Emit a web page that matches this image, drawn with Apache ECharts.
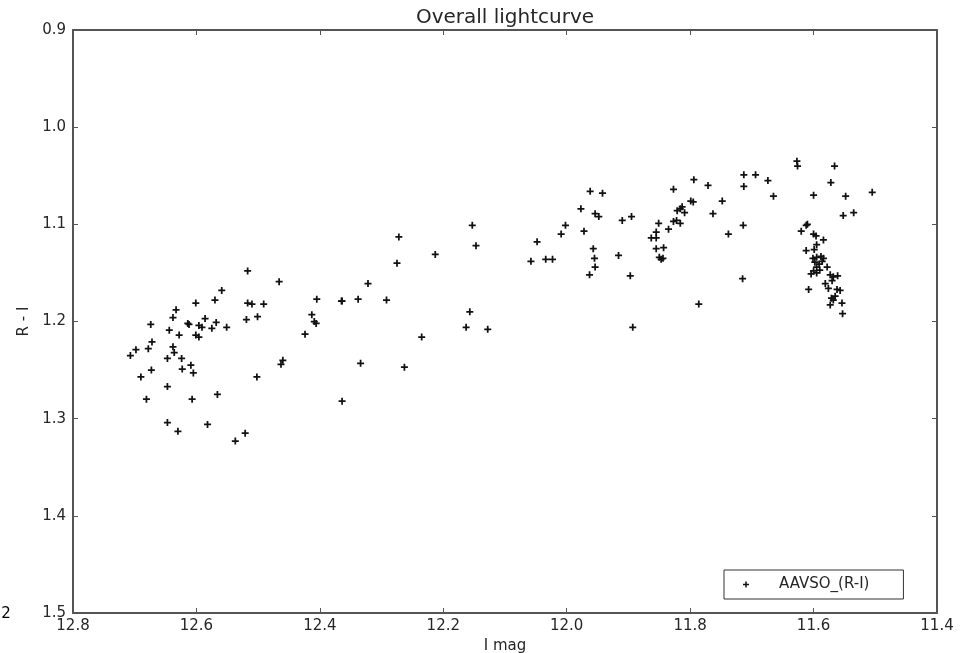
<!DOCTYPE html>
<html>
<head>
<meta charset="utf-8">
<script src="https://cdn.jsdelivr.net/npm/echarts@6/dist/echarts.min.js"></script>
<style>
html,body{margin:0;padding:0;background:#fff;}
#chart{width:961px;height:653px;}
</style>
</head>
<body>
<div id="chart"></div>
<script>
var chartTitle = 'Overall lightcurve';
var xName = 'I mag';
var yName = 'R - I';
var seriesName = 'AAVSO_(R-I)';
var xTicks = [12.8, 12.6, 12.4, 12.2, 12.0, 11.8, 11.6, 11.4];
var yTicks = [0.9, 1.0, 1.1, 1.2, 1.3, 1.4, 1.5];

var iMag = [
12.517,12.466,12.559,12.570,12.601,12.517,12.510,12.491,12.633,12.638,
12.586,12.614,12.612,12.568,12.674,12.596,12.591,12.575,12.551,12.519,
12.501,12.644,12.628,12.601,12.596,12.672,12.698,12.678,12.638,12.636,
12.707,12.647,12.624,12.609,12.623,12.605,12.673,12.690,12.460,12.463,
12.502,12.647,12.681,12.607,12.566,12.647,12.630,12.582,12.521,12.537,
12.153,12.147,12.272,12.213,12.275,12.322,12.405,12.365,12.364,12.338,
12.292,12.413,12.409,12.406,12.424,12.235,12.157,12.163,12.128,12.334,
12.263,12.364,12.048,12.058,12.034,12.023,12.002,12.009,11.977,11.962,
11.942,11.954,11.948,11.972,11.957,11.955,11.954,11.963,11.910,11.895,
11.916,11.897,11.893,11.851,11.855,11.863,11.855,11.855,11.843,11.850,
11.847,11.844,11.835,11.827,11.822,11.816,11.827,11.821,11.816,11.813,
11.809,11.799,11.795,11.794,11.771,11.763,11.748,11.738,11.786,11.713,
11.694,11.713,11.674,11.665,11.627,11.626,11.566,11.572,11.600,11.548,
11.505,11.552,11.535,11.714,11.715,11.610,11.612,11.620,11.600,11.596,
11.584,11.595,11.612,11.599,11.601,11.595,11.588,11.584,11.598,11.591,
11.586,11.595,11.578,11.600,11.590,11.604,11.595,11.573,11.568,11.561,
11.581,11.570,11.576,11.562,11.557,11.608,11.565,11.571,11.568,11.554,
11.573,11.553
];
var rMinusI = [
1.148,1.159,1.168,1.178,1.181,1.181,1.182,1.182,1.188,1.196,
1.197,1.202,1.203,1.201,1.203,1.204,1.206,1.207,1.206,1.198,
1.195,1.209,1.214,1.214,1.216,1.221,1.229,1.228,1.226,1.232,
1.235,1.238,1.238,1.245,1.249,1.253,1.250,1.257,1.240,1.244,
1.257,1.267,1.280,1.280,1.275,1.304,1.313,1.306,1.315,1.323,
1.101,1.122,1.113,1.131,1.140,1.161,1.177,1.179,1.179,1.177,
1.178,1.193,1.200,1.202,1.213,1.216,1.190,1.206,1.208,1.243,
1.247,1.282,1.118,1.138,1.136,1.136,1.101,1.110,1.084,1.066,
1.068,1.089,1.092,1.107,1.125,1.135,1.144,1.152,1.096,1.092,
1.132,1.153,1.206,1.099,1.108,1.114,1.114,1.125,1.124,1.134,
1.136,1.135,1.105,1.097,1.096,1.099,1.064,1.086,1.084,1.082,
1.088,1.076,1.077,1.054,1.060,1.089,1.076,1.110,1.182,1.049,
1.049,1.061,1.055,1.071,1.035,1.040,1.040,1.057,1.070,1.071,
1.067,1.091,1.088,1.101,1.156,1.100,1.101,1.107,1.110,1.112,
1.116,1.121,1.127,1.126,1.135,1.134,1.133,1.135,1.139,1.141,
1.138,1.144,1.144,1.148,1.147,1.151,1.150,1.152,1.154,1.153,
1.161,1.158,1.166,1.167,1.168,1.167,1.174,1.176,1.178,1.181,
1.183,1.192
];

var points = iMag.map(function (x, i) { return [x, rMinusI[i]]; });
var plusPath = 'path://M3,0H5V3H8V5H5V8H3V5H0V3H3Z';
var FONT = 'DejaVu Sans';
var TXT = '#262626';
var AX = '#555';

function fmt(v) { return (Math.round(v * 10) / 10).toFixed(1); }

var xMin = Math.min.apply(null, xTicks), xMax = Math.max.apply(null, xTicks);
var yMin = Math.min.apply(null, yTicks), yMax = Math.max.apply(null, yTicks);

var chart = echarts.init(document.getElementById('chart'), null, {renderer: 'canvas'});
var commonX = {
  type: 'value', min: xMin, max: xMax, interval: 0.2, inverse: true,
  splitLine: {show: false},
  axisLine: {show: true, onZero: false, lineStyle: {color: AX, width: 2}},
  axisTick: {show: true, inside: true, length: 5, lineStyle: {color: AX, width: 1}}
};
var commonY = {
  type: 'value', min: yMin, max: yMax, interval: 0.1, inverse: true,
  splitLine: {show: false},
  axisLine: {show: true, onZero: false, lineStyle: {color: AX, width: 2}},
  axisTick: {show: true, inside: true, length: 5, lineStyle: {color: AX, width: 1}}
};

chart.setOption({
  animation: false,
  backgroundColor: '#fff',
  grid: {left: 73, right: 24, top: 30, bottom: 40, containLabel: false, outerBoundsMode: 'none'},
  graphic: [
    {type: 'text', x: 505, y: 18, style: {text: chartTitle, fill: TXT, font: '20px "DejaVu Sans"', align: 'center', verticalAlign: 'middle'}},
    {type: 'text', x: 6, y: 614, style: {text: '2', fill: '#000', font: '15px "DejaVu Sans"', align: 'center', verticalAlign: 'middle'}}
  ],
  legend: {
    show: true,
    data: [seriesName],
    left: 724, top: 570,
    orient: 'horizontal',
    padding: [7, 34, 7, 19],
    itemWidth: 14, itemHeight: 6,
    icon: plusPath,
    backgroundColor: '#fff',
    borderColor: '#333', borderWidth: 1, borderRadius: 0,
    textStyle: {fontFamily: FONT, fontSize: 15, color: TXT, padding: [0, 0, 0, 21], lineHeight: 15}
  },
  xAxis: [
    Object.assign({}, commonX, {
      position: 'bottom',
      name: xName, nameLocation: 'middle', nameGap: 20,
      nameTextStyle: {fontFamily: FONT, fontSize: 15, color: TXT},
      axisLabel: {show: true, margin: 6, fontFamily: FONT, fontSize: 15, color: TXT, formatter: fmt, showMinLabel: true, showMaxLabel: true}
    }),
    Object.assign({}, commonX, {position: 'top', axisLabel: {show: false}})
  ],
  yAxis: [
    Object.assign({}, commonY, {
      position: 'left',
      name: yName, nameLocation: 'middle', nameGap: 37, nameRotate: 90,
      nameTextStyle: {fontFamily: FONT, fontSize: 15, color: TXT},
      axisLabel: {show: true, margin: 7, fontFamily: FONT, fontSize: 15, color: TXT, formatter: fmt, showMinLabel: true, showMaxLabel: true}
    }),
    Object.assign({}, commonY, {position: 'right', axisLabel: {show: false}})
  ],
  series: [{
    name: seriesName,
    type: 'scatter',
    xAxisIndex: 0, yAxisIndex: 0,
    data: points,
    symbol: plusPath,
    symbolSize: 7,
    itemStyle: {color: '#111', opacity: 1},
    emphasis: {disabled: true}
  }]
});
</script>
</body>
</html>
